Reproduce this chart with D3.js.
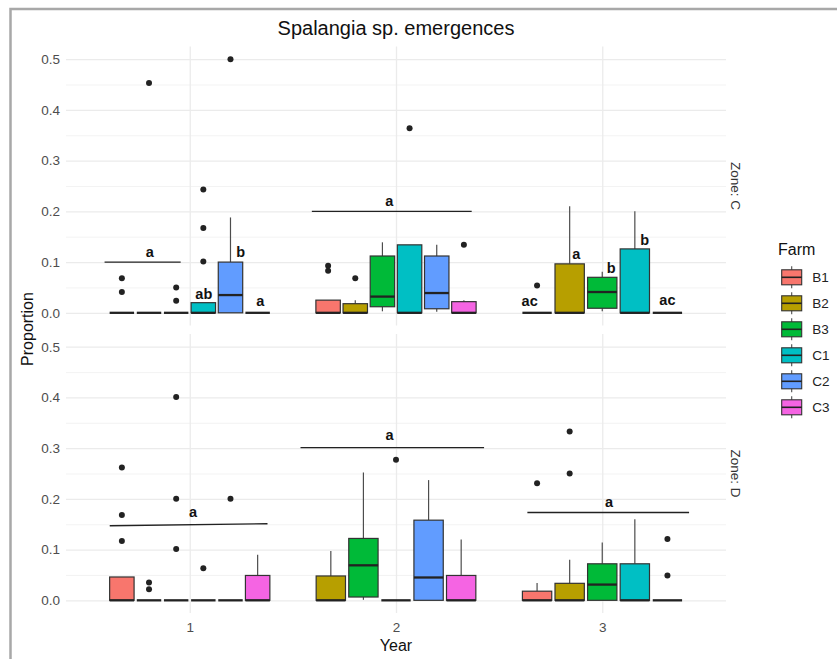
<!DOCTYPE html>
<html>
<head>
<meta charset="utf-8">
<script src="https://cdn.jsdelivr.net/npm/d3@7"></script>
<style>
  body { margin: 0; background: #fff; }
  svg { display: block; font-family: "Liberation Sans", Arial, sans-serif; }
</style>
</head>
<body>
<div id="chart"></div>
<script>
const farms = ["B1", "B2", "B3", "C1", "C2", "C3"];
const farmColors = ["#F8766D", "#B79F00", "#00BA38", "#00BFC4", "#619CFF", "#F564E3"];
const years = [1, 2, 3];
const zones = ["C", "D"];
const yTicks = [0, 0.1, 0.2, 0.3, 0.4, 0.5];
const yMinorTicks = [0.05, 0.15, 0.25, 0.35, 0.45];

// [year, farm, lower whisker, q1, median, q3, upper whisker, outliers]
const boxesZoneC = [
  [1, "B1", 0, 0, 0, 0, 0, [0.041, 0.068]],
  [1, "B2", 0, 0, 0, 0, 0, [0.453]],
  [1, "B3", 0, 0, 0, 0, 0, [0.024, 0.05]],
  [1, "C1", 0, 0, 0, 0.02, 0.02, [0.101, 0.167, 0.243]],
  [1, "C2", 0, 0, 0.035, 0.1, 0.188, [0.5]],
  [1, "C3", 0, 0, 0, 0, 0, []],
  [2, "B1", 0, 0, 0, 0.025, 0.025, [0.083, 0.093]],
  [2, "B2", 0, 0, 0, 0.018, 0.025, [0.068]],
  [2, "B3", 0.003, 0.012, 0.032, 0.112, 0.139, []],
  [2, "C1", 0, 0, 0, 0.134, 0.134, [0.364]],
  [2, "C2", 0.002, 0.008, 0.039, 0.112, 0.134, []],
  [2, "C3", 0, 0, 0, 0.022, 0.025, [0.134]],
  [3, "B1", 0, 0, 0, 0, 0, [0.054]],
  [3, "B2", 0, 0, 0, 0.0965, 0.21, []],
  [3, "B3", 0.003, 0.009, 0.041, 0.07, 0.081, []],
  [3, "C1", 0, 0, 0, 0.126, 0.2, []],
  [3, "C3", 0, 0, 0, 0, 0, []]
];
const boxesZoneD = [
  [1, "B1", 0, 0, 0, 0.046, 0.046, [0.117, 0.168, 0.262]],
  [1, "B2", 0, 0, 0, 0, 0, [0.022, 0.035]],
  [1, "B3", 0, 0, 0, 0, 0, [0.101, 0.2, 0.401]],
  [1, "C1", 0, 0, 0, 0, 0, [0.063]],
  [1, "C2", 0, 0, 0, 0, 0, [0.2]],
  [1, "C3", 0, 0, 0, 0.049, 0.09, []],
  [2, "B2", 0, 0, 0, 0.048, 0.097, []],
  [2, "B3", 0.001, 0.0065, 0.069, 0.122, 0.252, []],
  [2, "C1", 0, 0, 0, 0, 0, [0.277]],
  [2, "C2", 0, 0, 0.045, 0.158, 0.237, []],
  [2, "C3", 0, 0, 0, 0.049, 0.12, []],
  [3, "B1", 0, 0, 0, 0.018, 0.034, [0.231]],
  [3, "B2", 0, 0, 0, 0.0335, 0.08, [0.25, 0.333]],
  [3, "B3", 0, 0, 0.031, 0.072, 0.114, []],
  [3, "C1", 0, 0, 0, 0.072, 0.16, []],
  [3, "C3", 0, 0, 0, 0, 0, [0.049, 0.121]]
];

// significance bars: [x start, x end, y start, y end]
const groupLinesZoneC = [[0.587, 0.956, 0.1, 0.1], [1.592, 2.367, 0.2, 0.2]];
const groupLinesZoneD = [[0.612, 1.377, 0.147, 0.151], [1.537, 2.427, 0.301, 0.301], [2.637, 3.421, 0.173, 0.173]];

// letters: [x, y, label]
const lettersZoneC = [
  [0.806, 0.111, "a"], [1.068, 0.028, "ab"], [1.247, 0.111, "b"], [1.342, 0.014, "a"],
  [1.968, 0.211, "a"],
  [2.648, 0.014, "ac"], [2.874, 0.106, "a"], [3.043, 0.079, "b"], [3.206, 0.134, "b"], [3.316, 0.015, "ac"]
];
const lettersZoneD = [[1.016, 0.164, "a"], [1.969, 0.316, "a"], [3.033, 0.183, "a"]];

const width = 837, height = 659;
const panelLeft = 66, panelRight = 726, panelTop = 46.5, panelH = 279, panelGap = 8.5;
const groupHalf = 0.395;

const svg = d3.select("#chart").append("svg").attr("width", width).attr("height", height);
svg.append("rect").attr("width", width).attr("height", height).attr("fill", "#fff");

const x = d3.scaleLinear().domain([0.4, 3.6]).range([panelLeft, panelRight]);
const color = d3.scaleOrdinal().domain(farms).range(farmColors);

const panels = [
  { zone: zones[0], boxes: boxesZoneC, lines: groupLinesZoneC, letters: lettersZoneC },
  { zone: zones[1], boxes: boxesZoneD, lines: groupLinesZoneD, letters: lettersZoneD }
];

panels.forEach((p, i) => {
  const top = panelTop + i * (panelH + panelGap);
  const y = d3.scaleLinear().domain([-0.025, 0.525]).range([top + panelH, top]);
  const g = svg.append("g");

  // grid
  g.append("g").attr("transform", `translate(${panelLeft},0)`)
    .call(d3.axisLeft(y).tickValues(yMinorTicks).tickSize(-(panelRight - panelLeft)).tickFormat(""))
    .call(a => a.select(".domain").remove())
    .call(a => a.selectAll("line").attr("stroke", "#f0f0f0").attr("stroke-width", 0.8));
  g.append("g").attr("transform", `translate(${panelLeft},0)`)
    .call(d3.axisLeft(y).tickValues(yTicks).tickSize(-(panelRight - panelLeft)).tickFormat(""))
    .call(a => a.select(".domain").remove())
    .call(a => a.selectAll("line").attr("stroke", "#ebebeb").attr("stroke-width", 1.3));
  g.append("g").attr("transform", `translate(0,${top + panelH})`)
    .call(d3.axisBottom(x).tickValues(years).tickSize(-panelH).tickFormat(""))
    .call(a => a.select(".domain").remove())
    .call(a => a.selectAll("line").attr("stroke", "#ebebeb").attr("stroke-width", 1.3));

  // y tick labels
  g.append("g").attr("transform", `translate(${panelLeft},0)`)
    .call(d3.axisLeft(y).tickValues(yTicks).tickSize(0).tickPadding(6).tickFormat(d3.format(".1f")))
    .call(a => a.select(".domain").remove())
    .call(a => a.selectAll("text").attr("fill", "#4d4d4d").attr("font-size", 13.5)
      .attr("font-family", "Liberation Sans, Arial, sans-serif"));

  // boxes
  years.forEach(yr => {
    const rows = p.boxes.filter(r => r[0] === yr);
    const band = d3.scaleBand().domain(rows.map(r => r[1]))
      .range([x(yr - groupHalf), x(yr + groupHalf)]).paddingInner(0.1).paddingOuter(0.05);
    const bg = g.append("g");
    rows.forEach(([, farm, lo, q1, med, q3, hi, out]) => {
      const bx = band(farm), bw = band.bandwidth(), cx = bx + bw / 2;
      if (hi > q3) bg.append("line").attr("x1", cx).attr("x2", cx).attr("y1", y(q3)).attr("y2", y(hi))
        .attr("stroke", "#4d4d4d").attr("stroke-width", 1.2);
      if (lo < q1) bg.append("line").attr("x1", cx).attr("x2", cx).attr("y1", y(q1)).attr("y2", y(lo))
        .attr("stroke", "#4d4d4d").attr("stroke-width", 1.2);
      if (q3 > q1) bg.append("rect").attr("x", bx).attr("width", bw)
        .attr("y", y(q3)).attr("height", y(q1) - y(q3))
        .attr("fill", color(farm)).attr("stroke", "#333").attr("stroke-width", 1.2);
      bg.append("line").attr("x1", bx).attr("x2", bx + bw).attr("y1", y(med)).attr("y2", y(med))
        .attr("stroke", "#222").attr("stroke-width", 2.3);
      bg.selectAll(null).data(out).join("circle")
        .attr("cx", cx).attr("cy", d => y(d)).attr("r", 3).attr("fill", "#222");
    });
  });

  // significance bars and letters
  g.selectAll(".sig-line").data(p.lines).join("line").attr("class", "sig-line")
    .attr("x1", d => x(d[0])).attr("x2", d => x(d[1]))
    .attr("y1", d => y(d[2])).attr("y2", d => y(d[3]))
    .attr("stroke", "#222").attr("stroke-width", 1.4);
  g.selectAll(".sig-letter").data(p.letters).join("text").attr("class", "sig-letter")
    .attr("x", d => x(d[0])).attr("y", d => y(d[1]))
    .attr("text-anchor", "middle").attr("font-size", 14.5).attr("font-weight", "bold")
    .attr("fill", "#111").text(d => d[2]);

  // strip label
  svg.append("text")
    .attr("transform", `translate(736,${top + panelH / 2}) rotate(90)`)
    .attr("text-anchor", "middle").attr("dy", "0.35em")
    .attr("font-size", 13.5).attr("fill", "#333").text(`Zone: ${p.zone}`);
});

// x axis labels
const bottom = panelTop + 2 * panelH + panelGap;
svg.append("g").attr("transform", `translate(0,${bottom})`)
  .call(d3.axisBottom(x).tickValues(years).tickSize(0).tickPadding(9).tickFormat(d3.format("d")))
  .call(a => a.select(".domain").remove())
  .call(a => a.selectAll("text").attr("fill", "#4d4d4d").attr("font-size", 13.5)
    .attr("font-family", "Liberation Sans, Arial, sans-serif"));

// titles
svg.append("text").attr("x", 396).attr("y", 35).attr("text-anchor", "middle")
  .attr("font-size", 20).attr("fill", "#111").text("Spalangia sp. emergences");
svg.append("text").attr("x", 396).attr("y", 651).attr("text-anchor", "middle")
  .attr("font-size", 16).attr("fill", "#111").text("Year");
svg.append("text").attr("transform", "translate(27.5,329) rotate(-90)")
  .attr("text-anchor", "middle").attr("dy", "0.35em")
  .attr("font-size", 16).attr("fill", "#111").text("Proportion");

// legend
const legendY = d3.scalePoint().domain(farms).range([277.3, 407.3]);
const legend = svg.append("g");
legend.append("text").attr("x", 778).attr("y", 255).attr("font-size", 16).attr("fill", "#111").text("Farm");
const keys = legend.selectAll(".key").data(farms).join("g").attr("class", "key")
  .attr("transform", d => `translate(781.7,${legendY(d)})`);
keys.append("line").attr("x1", 10).attr("x2", 10).attr("y1", -11).attr("y2", 11)
  .attr("stroke", "#4d4d4d").attr("stroke-width", 1.1);
keys.append("rect").attr("x", 0).attr("y", -7.5).attr("width", 20).attr("height", 15)
  .attr("fill", d => color(d)).attr("stroke", "#333").attr("stroke-width", 1.1);
keys.append("line").attr("x1", 0).attr("x2", 20).attr("y1", 0).attr("y2", 0)
  .attr("stroke", "#222").attr("stroke-width", 1.6);
keys.append("text").attr("x", 30.5).attr("dy", "0.36em").attr("font-size", 13.5)
  .attr("fill", "#222").text(d => d);

// screenshot frame
svg.append("path").attr("d", `M10.5,${height} V9 H${width}`)
  .attr("fill", "none").attr("stroke", "#a8a8a8").attr("stroke-width", 2.5);
</script>
</body>
</html>
